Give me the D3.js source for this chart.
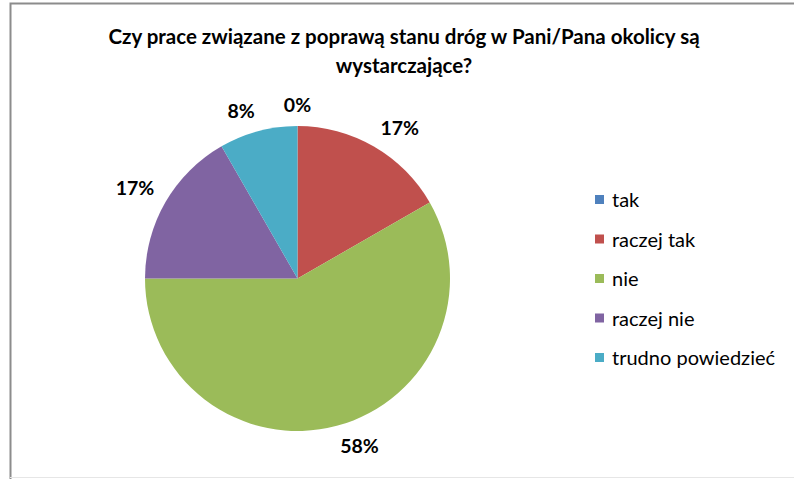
<!DOCTYPE html>
<html><head><meta charset="utf-8">
<script src="https://cdn.jsdelivr.net/npm/d3@7"></script>
<style>
html,body{margin:0;padding:0;background:#fff;}
svg{display:block;}
</style></head>
<body>
<svg id="chart" width="794" height="479"></svg>
<script>
const categories = ["tak", "raczej tak", "nie", "raczej nie", "trudno powiedzieć"];
const values = [0, 16.7, 58.3, 16.7, 8.3];
const labels = ["0%", "17%", "58%", "17%", "8%"];
const colors = ["#4F81BD", "#C0504D", "#9BBB59", "#8064A2", "#4BACC6"];
const titleLines = ["Czy prace związane z poprawą stanu dróg w Pani/Pana okolicy są", "wystarczające?"];

const svg = d3.select("#chart");
const font = "Lato, 'Open Sans', sans-serif";

// frame
svg.append("path")
  .attr("d", "M10.5,479 L10.5,3.5 L794,3.5")
  .attr("fill", "none").attr("stroke", "#8c8c8c").attr("stroke-width", 2);
svg.append("line").attr("x1", 10).attr("x2", 794).attr("y1", 477.5).attr("y2", 477.5)
  .attr("stroke", "#e6e6e6").attr("stroke-width", 1);

// title
svg.append("g").selectAll("text").data(titleLines).join("text")
  .attr("x", 404).attr("y", (d, i) => 44 + i * 29)
  .attr("text-anchor", "middle")
  .attr("font-family", font).attr("font-weight", 700).attr("font-size", 20.5)
  .attr("fill", "#000").text(d => d);

const cx = 297.5, cy = 278.5, R = 152.5;
const g = svg.append("g").attr("transform", `translate(${cx},${cy})`);
const pie = d3.pie().sort(null).value(d => d)(values);
const arc = d3.arc().innerRadius(0).outerRadius(R);

g.selectAll("path").data(pie).join("path")
  .attr("d", arc).attr("fill", (d, i) => colors[i])
  .attr("stroke", "none");

// labels outside end: the box corner nearest the pie sits on a ring just outside it
const gap = 13, lh = 15;
const sgn = v => Math.abs(v) < 0.02 ? 0 : Math.sign(v);
g.selectAll("text.lbl").data(pie).join("text").attr("class", "lbl")
  .attr("text-anchor", "middle")
  .attr("font-family", font).attr("font-weight", 700).attr("font-size", 19.5)
  .attr("fill", "#000").text((d, i) => labels[i])
  .each(function (d) {
    const w = this.getComputedTextLength();
    const a = (d.startAngle + d.endAngle) / 2;
    const s = Math.sin(a), c = Math.cos(a);
    const r = R + gap;
    d3.select(this)
      .attr("x", r * s + sgn(s) * w / 2)
      .attr("y", -r * c - sgn(c) * lh / 2)
      .attr("dy", "0.35em");
  });

// legend
const leg = svg.append("g");
const ly = d3.scalePoint().domain(categories).range([200, 358]);
const items = leg.selectAll("g").data(categories).join("g")
  .attr("transform", d => `translate(595,${ly(d)})`);
items.append("rect").attr("x", 0).attr("y", -5).attr("width", 9).attr("height", 9)
  .attr("fill", (d, i) => colors[i]);
items.append("text").attr("x", 17).attr("y", 0).attr("dy", "0.35em")
  .attr("font-family", font).attr("font-size", 20).attr("fill", "#000")
  .text(d => d);
</script>
</body></html>
